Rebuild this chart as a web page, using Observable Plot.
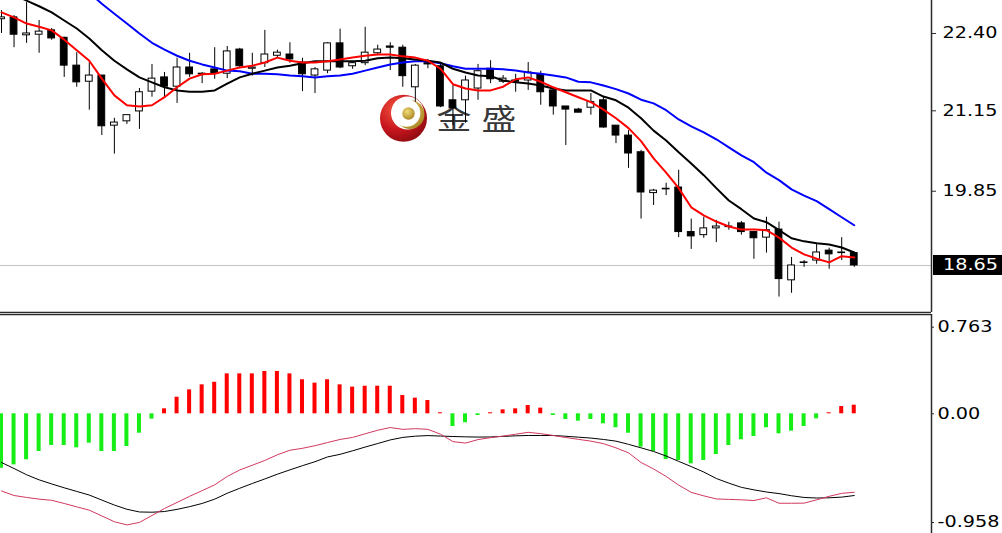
<!DOCTYPE html>
<html>
<head>
<meta charset="utf-8">
<script src="https://cdn.jsdelivr.net/npm/d3@7"></script>
<script src="https://cdn.jsdelivr.net/npm/@observablehq/plot@0.6"></script>
<style>
  html, body { margin: 0; padding: 0; background: #fff; }
  #chart { width: 1002px; height: 533px; overflow: hidden; position: relative; background: #fff; }
  #chart svg { display: block; }
</style>
</head>
<body>
<div id="chart"></div>
<script>
// Daily candles (oldest → newest)
const open = [22.63,22.66,22.37,22.38,22.45,22.33,21.88,21.62,21.72,20.91,
  20.98,21.14,21.46,21.69,21.54,21.85,21.75,21.82,21.75,22.14,
  21.83,21.92,22.04,22.06,21.93,21.72,21.80,22.24,21.87,21.92,
  22.08,22.19,22.17,21.53,21.92,21.87,21.32,21.32,21.51,21.83,
  21.62,21.64,21.64,21.74,21.48,21.22,21.17,21.20,21.32,20.91,
  20.75,20.48,19.82,19.89,19.91,19.19,19.14,19.25,19.28,19.33,
  19.19,19.10,19.23,18.41,18.69,18.73,18.89,18.86,18.85];
const high = [22.77,22.69,22.90,22.61,22.48,22.34,22.09,21.93,21.72,21.03,
  21.08,21.51,21.90,21.77,22.00,22.08,21.77,22.17,22.19,22.16,
  22.08,22.45,22.13,22.25,22.00,21.85,22.25,22.47,21.93,22.50,
  22.21,22.25,22.21,21.90,21.98,21.92,21.56,21.71,21.90,21.96,
  21.72,21.74,21.93,21.79,21.51,21.22,21.19,21.43,21.37,20.91,
  20.83,20.51,19.88,19.98,20.19,19.40,19.43,19.38,19.35,19.36,
  19.20,19.43,19.35,18.78,18.73,19.01,18.93,19.10,18.86];
const low = [22.40,22.17,22.24,22.08,22.29,21.69,21.53,21.16,20.75,20.45,
  20.93,20.85,21.37,21.37,21.27,21.69,21.59,21.66,21.67,21.85,
  21.71,21.85,22.01,21.92,21.46,21.43,21.75,21.83,21.82,21.88,
  22.04,21.80,21.53,21.29,21.83,21.20,20.91,20.95,21.32,21.59,
  21.59,21.45,21.48,21.24,21.08,20.59,21.12,21.08,20.87,20.62,
  20.22,19.40,19.62,19.78,19.10,18.91,19.09,19.02,19.22,19.14,
  18.75,18.85,18.14,18.20,18.62,18.67,18.59,18.73,18.62];
const close = [22.66,22.38,22.40,22.43,22.32,21.88,21.61,21.72,20.90,20.96,
  21.08,21.45,21.67,21.54,21.85,21.74,21.74,21.75,22.11,21.87,
  21.85,22.06,22.09,21.98,21.74,21.82,22.24,21.85,21.92,22.09,
  22.14,22.17,21.71,21.88,21.90,21.22,21.19,21.64,21.79,21.66,
  21.67,21.62,21.77,21.45,21.22,21.17,21.12,21.29,20.88,20.75,
  20.46,19.83,19.86,19.88,19.19,19.12,19.25,19.28,19.27,19.19,
  19.09,19.22,18.43,18.65,18.70,18.86,18.83,18.85,18.65];

// Moving averages: fast (red), medium (black), slow (blue)
const maFast = [22.74,22.66,22.56,22.51,22.45,22.30,22.13,21.96,21.67,21.40,
  21.24,21.22,21.24,21.37,21.53,21.67,21.74,21.75,21.80,21.85,
  21.88,21.93,22.01,21.96,21.93,21.93,21.95,21.98,22.01,22.04,
  22.06,22.06,22.03,22.01,21.96,21.83,21.58,21.51,21.48,21.48,
  21.54,21.66,21.69,21.62,21.53,21.45,21.37,21.29,21.17,21.03,
  20.87,20.66,20.38,20.15,19.90,19.59,19.46,19.36,19.28,19.23,
  19.23,19.22,19.10,18.94,18.83,18.76,18.70,18.80,18.78];
const maMid = [23.18,23.03,22.93,22.84,22.74,22.61,22.48,22.32,22.13,21.96,
  21.82,21.69,21.61,21.53,21.48,21.46,21.46,21.48,21.59,21.69,
  21.75,21.80,21.85,21.88,21.92,21.95,21.95,21.95,21.95,21.96,
  22.00,22.01,22.00,21.98,21.96,21.93,21.83,21.77,21.72,21.71,
  21.64,21.61,21.59,21.56,21.51,21.48,21.48,21.48,21.38,21.32,
  21.20,21.03,20.83,20.67,20.48,20.30,20.11,19.90,19.70,19.56,
  19.41,19.35,19.22,19.09,19.04,19.01,18.99,18.94,18.86];
const maSlow = [null,null,null,null,null,null,null,23.06,22.88,22.72,
  22.56,22.40,22.25,22.14,22.04,21.96,21.90,21.85,21.80,21.79,
  21.75,21.75,21.74,21.72,21.71,21.69,21.71,21.72,21.75,21.80,
  21.85,21.90,21.93,21.95,21.95,21.92,21.87,21.83,21.83,21.83,
  21.82,21.80,21.77,21.75,21.72,21.69,21.62,21.61,21.56,21.50,
  21.43,21.33,21.27,21.16,21.01,20.90,20.80,20.69,20.56,20.43,
  20.32,20.15,20.03,19.88,19.78,19.69,19.56,19.43,19.30];

// MACD: histogram, DIFF (crimson) and DEA (black)
const macdHist = [-0.48,-0.45,-0.405,-0.332,-0.279,-0.279,-0.30,-0.259,-0.332,-0.332,
  -0.288,-0.171,-0.047,0.044,0.146,0.211,0.255,0.278,0.352,0.352,
  0.352,0.373,0.373,0.352,0.30,0.27,0.30,0.255,0.235,0.243,
  0.243,0.243,0.161,0.138,0.117,0.009,-0.112,-0.079,-0.015,0.009,
  0.035,0.044,0.073,0.05,-0.015,-0.05,-0.065,-0.05,-0.088,-0.123,
  -0.171,-0.294,-0.332,-0.403,-0.411,-0.441,-0.411,-0.359,-0.279,-0.229,
  -0.200,-0.123,-0.176,-0.153,-0.112,-0.044,0.009,0.064,0.076];
const macdDiff = [-0.680,-0.720,-0.737,-0.752,-0.762,-0.790,-0.820,-0.849,-0.900,-0.951,
  -0.979,-0.957,-0.896,-0.834,-0.781,-0.727,-0.677,-0.626,-0.552,-0.495,
  -0.453,-0.411,-0.361,-0.321,-0.304,-0.281,-0.253,-0.226,-0.208,-0.176,
  -0.145,-0.121,-0.137,-0.131,-0.137,-0.179,-0.245,-0.258,-0.227,-0.210,
  -0.196,-0.180,-0.163,-0.175,-0.191,-0.209,-0.225,-0.241,-0.263,-0.300,
  -0.344,-0.429,-0.486,-0.552,-0.628,-0.692,-0.723,-0.750,-0.754,-0.758,
  -0.764,-0.740,-0.788,-0.788,-0.787,-0.758,-0.727,-0.701,-0.691];
const macdDea = [-0.429,-0.482,-0.537,-0.582,-0.618,-0.652,-0.684,-0.716,-0.760,-0.804,
  -0.841,-0.865,-0.867,-0.861,-0.842,-0.818,-0.790,-0.752,-0.700,-0.656,
  -0.614,-0.574,-0.532,-0.494,-0.457,-0.422,-0.380,-0.357,-0.326,-0.293,
  -0.262,-0.230,-0.208,-0.197,-0.192,-0.196,-0.200,-0.203,-0.205,-0.204,
  -0.199,-0.194,-0.191,-0.191,-0.191,-0.198,-0.206,-0.214,-0.226,-0.241,
  -0.269,-0.300,-0.332,-0.372,-0.419,-0.465,-0.513,-0.570,-0.611,-0.648,
  -0.670,-0.689,-0.703,-0.722,-0.737,-0.742,-0.740,-0.734,-0.720];

// Axis labels
const priceTicks = [22.40, 21.15, 19.85];
const lastPrice = 18.65;
const macdTicks = [0.763, 0, -0.958];
const brandChars = ["金", "盛"];

// ---- layout ----
const W = 1002, H_TOP = 313, H_BOT = 220;
const xDomain = [-0.08, 74.16];
const priceDomain = [17.89, 22.933];
const macdDomain = [-1.0546, 0.8749];
const axisInk = "#2b2b2b";
const font = "'DejaVu Sans', Verdana, sans-serif";

const idx = d3.range(open.length);
const candles = idx.map(i => ({i, o: open[i], h: high[i], l: low[i], c: close[i]}));
const series = arr => idx.map(i => ({i, v: arr[i]}));

const upper = Plot.plot({
  width: W, height: H_TOP,
  marginLeft: 0, marginRight: 71, marginTop: 0, marginBottom: 1,
  style: {background: "#fff", fontFamily: font, fontSize: "15px", color: "#000"},
  x: {domain: xDomain, axis: null},
  y: {domain: priceDomain, axis: null},
  marks: [
    Plot.ruleY([lastPrice], {stroke: "#c2c2c2", strokeWidth: 1}),
    Plot.ruleX(candles, {x: "i", y1: "l", y2: "h", stroke: "#000", strokeWidth: 1}),
    Plot.rect(candles, {
      x1: d => d.i - 0.27, x2: d => d.i + 0.27, y1: "o", y2: "c",
      fill: d => d.c > d.o ? "#fff" : "#000", stroke: "#000", strokeWidth: 1
    }),
    Plot.line(series(maSlow), {x: "i", y: "v", stroke: "#0000ff", strokeWidth: 2}),
    Plot.line(series(maMid), {x: "i", y: "v", stroke: "#000000", strokeWidth: 2}),
    Plot.line(series(maFast), {x: "i", y: "v", stroke: "#ff0000", strokeWidth: 2}),
    Plot.ruleY([priceDomain[0]], {stroke: axisInk, strokeWidth: 1.5}),
    Plot.ruleX([xDomain[1]], {stroke: axisInk, strokeWidth: 1.5}),
    Plot.axisY(priceTicks, {
      anchor: "right", label: null, tickSize: 4, tickPadding: 7, stroke: axisInk,
      tickFormat: d => d.toFixed(2)
    })
  ]
});

const lower = Plot.plot({
  width: W, height: H_BOT,
  marginLeft: 0, marginRight: 71, marginTop: 1, marginBottom: 0,
  style: {background: "#fff", fontFamily: font, fontSize: "15px", color: "#000"},
  x: {domain: xDomain, axis: null},
  y: {domain: macdDomain, axis: null},
  marks: [
    Plot.rect(series(macdHist), {
      x1: d => d.i - 0.16, x2: d => d.i + 0.16, y1: 0, y2: "v",
      fill: d => d.v >= 0 ? "#ff0000" : "#16ee16"
    }),
    Plot.line(series(macdDea), {x: "i", y: "v", stroke: "#000", strokeWidth: 1}),
    Plot.line(series(macdDiff), {x: "i", y: "v", stroke: "#d2385f", strokeWidth: 1}),
    Plot.ruleY([macdDomain[1]], {stroke: axisInk, strokeWidth: 1.5}),
    Plot.ruleX([xDomain[1]], {stroke: axisInk, strokeWidth: 1.5}),
    Plot.axisY(macdTicks, {
      anchor: "right", label: null, tickSize: 2, tickPadding: 4, stroke: axisInk,
      tickFormat: d => d === 0 ? "0.00" : String(d)
    })
  ]
});

const root = document.getElementById("chart");
root.append(upper, lower);

// current price tag on the price axis
{
  const yPos = upper.scale("y").apply(lastPrice);
  const xPos = upper.scale("x").apply(xDomain[1]);
  const tag = d3.select(upper).append("g").attr("class", "price-tag");
  tag.append("rect")
    .attr("x", xPos + 2).attr("y", yPos - 10)
    .attr("width", W - xPos - 2).attr("height", 20).attr("fill", "#000");
  tag.append("text")
    .attr("x", xPos + 12).attr("y", yPos).attr("dy", "0.36em")
    .attr("text-anchor", "start")
    .attr("fill", "#fff").attr("font-family", font).attr("font-size", 15)
    .text(lastPrice.toFixed(2));
}

// wide terminal-style numerals on the right scale
for (const svg of [upper, lower]) {
  svg.querySelectorAll("text").forEach(t => {
    const len = t.getComputedTextLength();
    t.setAttribute("textLength", (len * 1.28).toFixed(1));
    t.setAttribute("lengthAdjust", "spacingAndGlyphs");
  });
}

// brand mark behind the candles
{
  const svg = d3.select(upper);
  const defs = svg.insert("defs", "g");
  const red = defs.append("radialGradient").attr("id", "brand-red")
    .attr("cx", "35%").attr("cy", "30%").attr("r", "80%");
  red.append("stop").attr("offset", "0%").attr("stop-color", "#f2553f");
  red.append("stop").attr("offset", "55%").attr("stop-color", "#c8161d");
  red.append("stop").attr("offset", "100%").attr("stop-color", "#860910");
  const gold = defs.append("radialGradient").attr("id", "brand-gold")
    .attr("cx", "40%").attr("cy", "35%").attr("r", "70%");
  gold.append("stop").attr("offset", "0%").attr("stop-color", "#f1dc7a");
  gold.append("stop").attr("offset", "100%").attr("stop-color", "#a88420");

  const g = svg.insert("g", "g:not(defs)").attr("class", "brand");
  g.append("circle").attr("cx", 403.5).attr("cy", 118.3).attr("r", 23.5).attr("fill", "url(#brand-red)");
  g.append("circle").attr("cx", 407.5).attr("cy", 113).attr("r", 16.5).attr("fill", "#fff");
  g.append("circle").attr("cx", 410).attr("cy", 114.5).attr("r", 14.5).attr("fill", "url(#brand-gold)");
  g.append("circle").attr("cx", 406.5).attr("cy", 113).attr("r", 13.8).attr("fill", "#fff");
  g.append("circle").attr("cx", 408.5).attr("cy", 113.5).attr("r", 6.2).attr("fill", "url(#brand-gold)");
  brandChars.forEach((ch, k) => {
    g.append("text")
      .attr("transform", `translate(${454 + k * 45},130) scale(1.2,1)`)
      .attr("text-anchor", "middle")
      .attr("font-family", "'Noto Sans CJK SC', sans-serif")
      .attr("font-size", 29)
      .attr("fill", "#383838")
      .text(ch);
  });
}
</script>
</body>
</html>
